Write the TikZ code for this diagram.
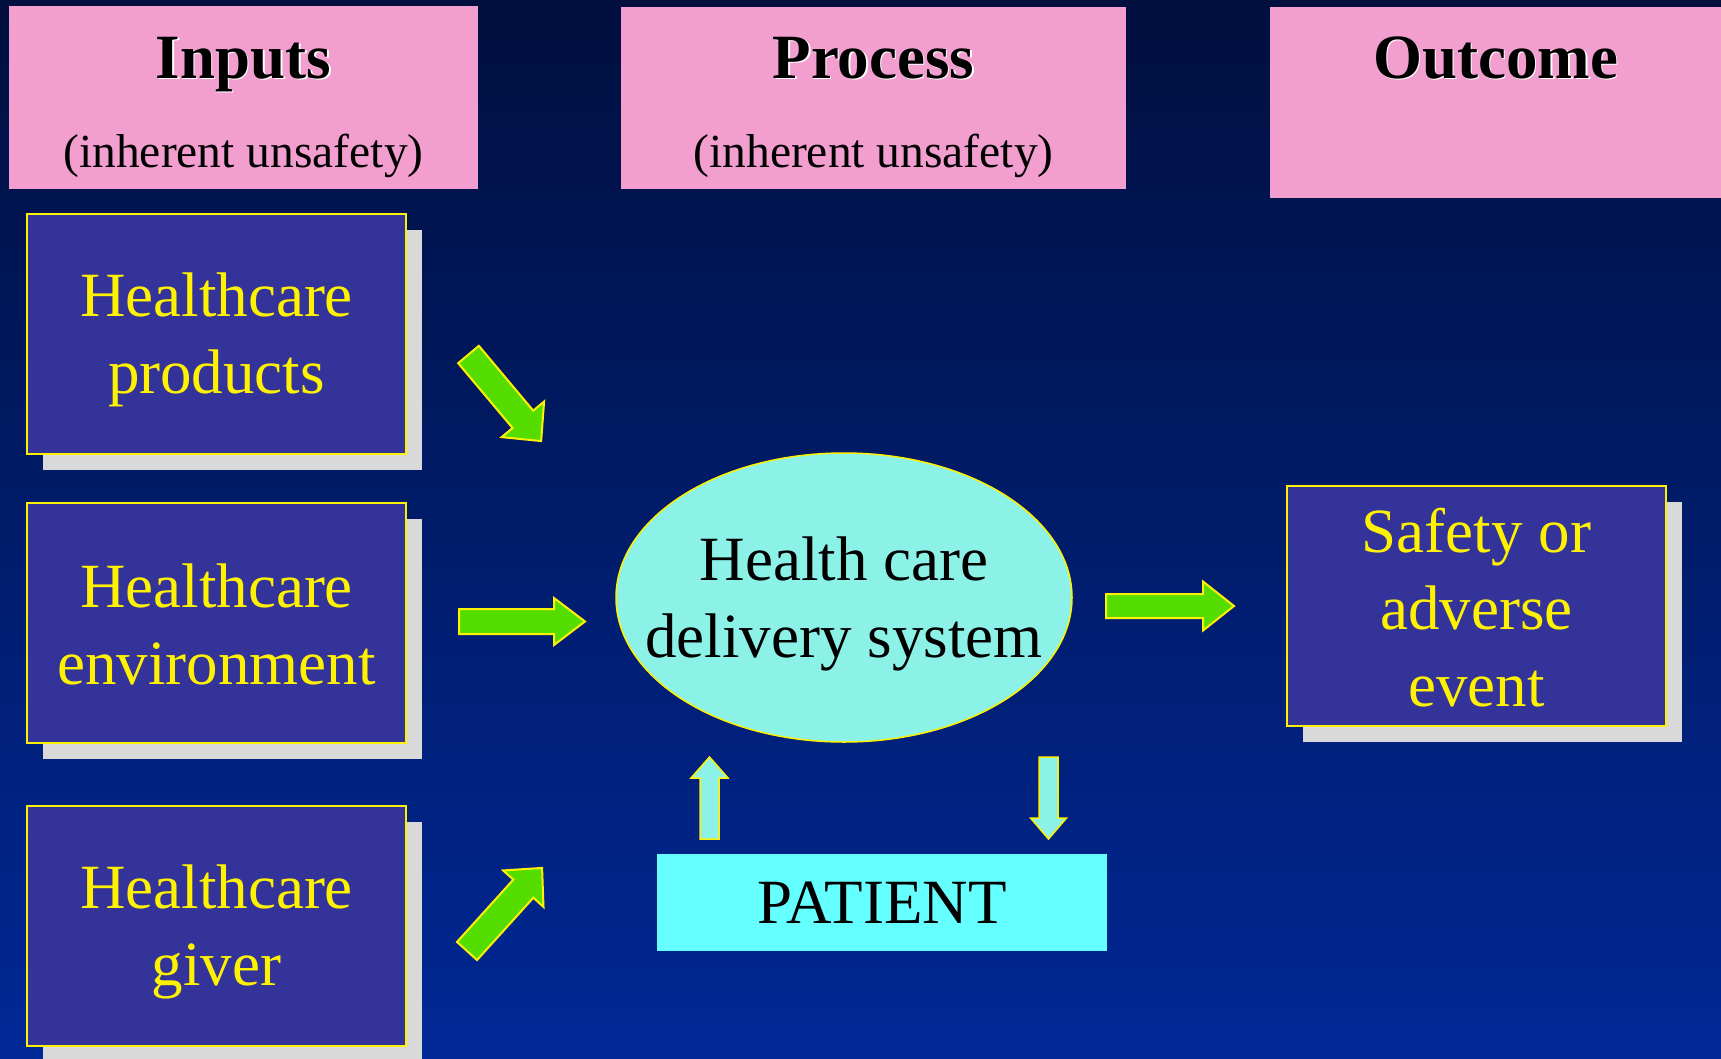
\documentclass[tikz,border=0pt]{standalone}
\usepackage{fontspec}
\setmainfont{Liberation Serif}
\usetikzlibrary{shapes.geometric,shadows}

\definecolor{bgtop}{RGB}{0,15,62}
\definecolor{bgbot}{RGB}{0,40,150}
\definecolor{hdrpink}{RGB}{242,158,207}
\definecolor{boxblue}{RGB}{51,51,153}
\definecolor{shadegray}{RGB}{217,217,217}
\definecolor{arrgreen}{RGB}{85,221,0}
\definecolor{ovalcyan}{RGB}{140,242,232}
\definecolor{patcyan}{RGB}{102,255,255}

\newcommand{\embossed}[1]{\leavevmode\rlap{\kern1.5pt\raisebox{-1.5pt}{\color{white}#1}}#1}
\newcommand{\lnst}{\rule[-10pt]{0pt}{66pt}}
\newcommand{\blockarrow}[7]{\filldraw[#1,shift={#2},rotate=#3] (0,-#5) -- ({#4-#7},-#5) -- ({#4-#7},-#6) -- (#4,0) -- ({#4-#7},#6) -- ({#4-#7},#5) -- (0,#5) -- cycle;}

\begin{document}
\begin{tikzpicture}[x=1pt,y=-1pt,
 hdr/.style={fill=hdrpink,inner sep=0pt},
 hdrtitle/.style={anchor=base,inner sep=0pt,font=\fontsize{63}{77}\selectfont\bfseries},
 hdrsub/.style={anchor=base,inner sep=0pt,font=\fontsize{47.5}{57}\selectfont},
 inbox/.style={draw=yellow,line width=2pt,fill=boxblue,text=yellow,align=center,
   minimum width=379pt,minimum height=240pt,inner sep=0pt,font=\fontsize{63}{77}\selectfont,
   drop shadow={shadow xshift=16pt,shadow yshift=-16pt,fill=shadegray,opacity=1}},
 oval/.style={ellipse,draw=yellow,line width=1.5pt,fill=ovalcyan,minimum width=456pt,minimum height=289pt,inner sep=0pt},
 bodytext/.style={align=center,inner sep=0pt,font=\fontsize{63}{77}\selectfont},
 bigarr/.style={fill=arrgreen,draw=yellow,line width=2pt,line join=miter},
 smallarr/.style={fill=ovalcyan,draw=yellow,line width=1.5pt,line join=miter}]
 \useasboundingbox (0,0) rectangle (1721,1058);
 \shade[top color=bgtop,bottom color=bgbot] (0,0) rectangle (1721,1058);

 \node (hdr 1) at (243.5,97.5) [hdr,minimum width=469pt,minimum height=183pt] {};
 \node (hdr 2) at (873.5,98) [hdr,minimum width=505pt,minimum height=182pt] {};
 \node (hdr 3) at (1495.5,102.5) [hdr,minimum width=451pt,minimum height=191pt] {};
 \node (ttl 1) at (243.5,78) [hdrtitle] {\embossed{Inputs}};
 \node (ttl 2) at (873.5,78) [hdrtitle] {\embossed{Process}};
 \node (ttl 3) at (1495.5,78) [hdrtitle] {\embossed{Outcome}};
 \node (sub 1) at (243.5,167) [hdrsub] {(inherent unsafety)};
 \node (sub 2) at (873.5,167) [hdrsub] {(inherent unsafety)};

 \node (box 1) at (216.5,333.5) [inbox] {\lnst Healthcare\\\lnst products};
 \node (box 2) at (216.5,622.5) [inbox] {\lnst Healthcare\\\lnst environment};
 \node (box 3) at (216.5,925.5) [inbox] {\lnst Healthcare\\\lnst giver};
 \node (box 4) at (1476.5,606) [inbox] {\lnst Safety or\\\lnst adverse\\\lnst event};

 \node (hcds) at (844,597.5) [oval] {};
 \node (hcds text) at (hcds) [bodytext] {\lnst Health care\\\lnst delivery system};
 \node (patient) at (882,902.5) [fill=patcyan,minimum width=450pt,minimum height=97pt,inner sep=0pt,font=\fontsize{63}{77}\selectfont] {PATIENT};

 \blockarrow{bigarr}{(468.5,354.5)}{-50}{113}{13.5}{27.7}{28.4}
 \blockarrow{bigarr}{(459,621.5)}{0}{126}{12.5}{23.5}{31}
 \blockarrow{bigarr}{(467,951)}{47.9}{112}{13.5}{27.2}{28}
 \blockarrow{bigarr}{(1106,606)}{0}{128}{12}{24.5}{31}
 \blockarrow{smallarr}{(709.5,839)}{90}{82}{9.5}{18.5}{21}
 \blockarrow{smallarr}{(1048.5,757)}{-90}{82}{9.5}{18}{21}
\end{tikzpicture}
\end{document}
